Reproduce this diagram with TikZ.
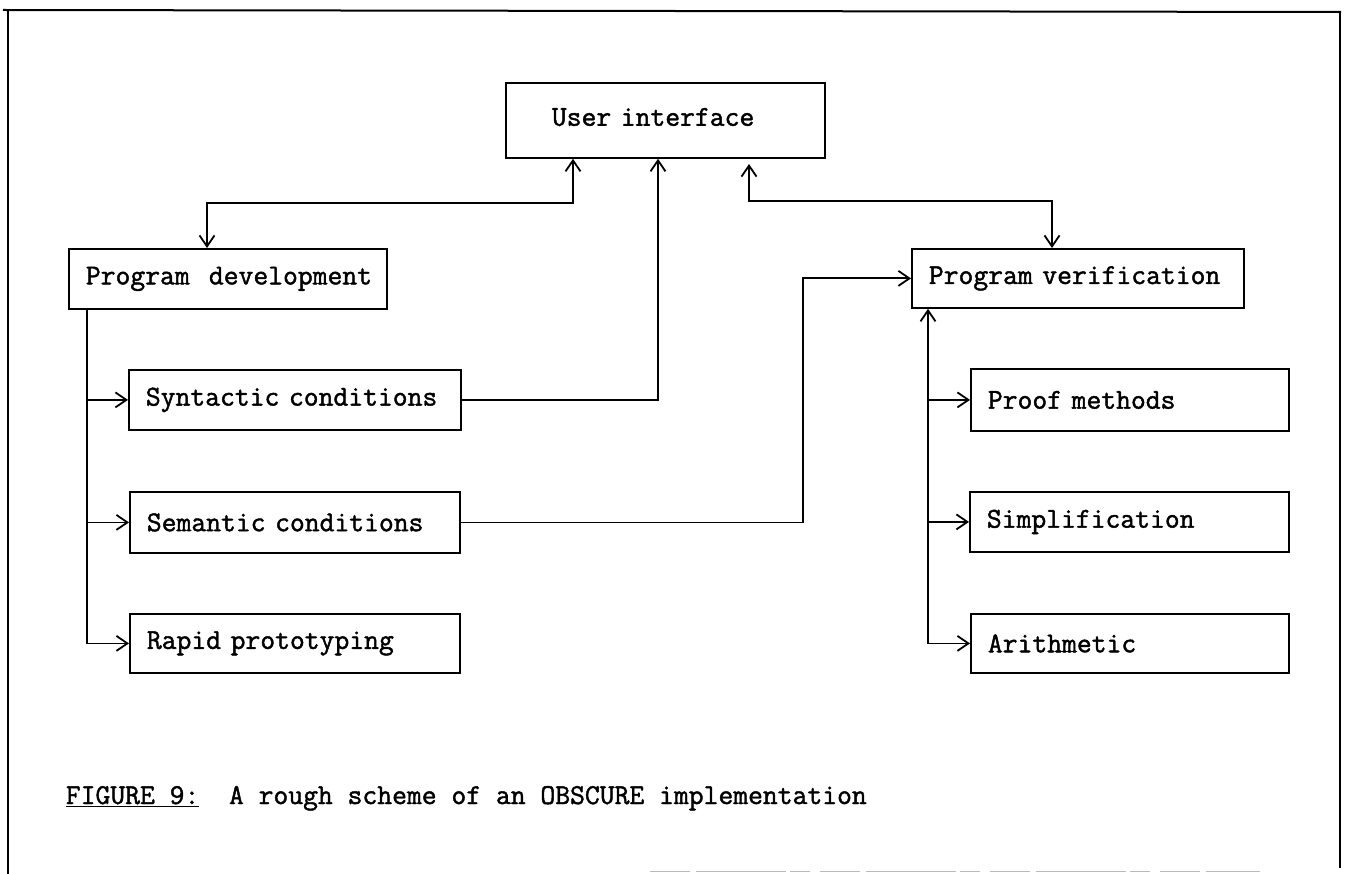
\documentclass[tikz,border=0pt]{standalone}
\usepackage{fontspec}
\newfontfamily\tw{Latin Modern Mono}[FakeBold=1.5]
\usetikzlibrary{arrows.meta}
\begin{document}
\begin{tikzpicture}[x=1pt,y=-1pt,line width=1.8pt,
  txt/.style={font=\tw\fontsize{28.8}{34}\selectfont},
  box/.style={txt,draw,rectangle,anchor=north west,inner ysep=0pt,inner xsep=17pt,align=left},
  tip/.tip={Straight Barb[length=11pt,width=15pt,line width=1.8pt]},
  arr/.style={-tip},
  dbl/.style={tip-tip}]
\useasboundingbox (0,0) rectangle (1348,874);
% frame
\draw[line width=2pt] (3,10) -- (1341,12);
\draw[line width=2pt] (8,10) -- (8,874);
\draw[line width=2pt] (1340,12) -- (1340,868);
\draw[line width=1pt,gray!55,dash pattern=on 40pt off 6pt on 90pt off 4pt on 20pt off 10pt] (650,871) -- (1260,871);
% boxes
\node[box,inner xsep=46pt,text width=227pt,minimum height=75pt] (UI) at (505,82) {\raisebox{7pt}{User interface}};
\node[box,text width=284pt,minimum height=60pt] (PD) at (68,248) {\mbox{Program\ \ development}};
\node[box,text width=298pt,minimum height=59pt] (PV) at (911,248) {\mbox{Program verification}};
\node[box,text width=298pt,minimum height=60pt] (SC) at (128,369) {Syntactic conditions};
\node[box,text width=296pt,minimum height=61pt] (SM) at (129,491) {Semantic conditions};
\node[box,text width=296pt,minimum height=59pt] (RP) at (129,613) {Rapid prototyping};
\node[box,text width=284pt,minimum height=62pt] (PM) at (970,368) {Proof methods};
\node[box,text width=285pt,minimum height=60pt] (SI) at (969,491) {Simplification};
\node[box,text width=284pt,minimum height=59pt] (AR) at (970,613) {Arithmetic};
% connectors
\coordinate (a1) at (573,203);
\coordinate (a2) at (207,203);
\draw[dbl] (UI.south -| a1) -- (a1) -- (a2) -- (PD.north -| a2);
\coordinate (b0) at (749,164);
\coordinate (b1) at (749,201);
\coordinate (b2) at (1052,201);
\draw[dbl] (b0) -- (b1) -- (b2) -- (PV.north -| b2);
\coordinate (c1) at (658,398);
\draw[arr] (SC.east) -- (SC.east -| c1) -- (UI.south -| c1);
\coordinate (d1) at (803,0);
\draw[arr] (SM.east) -| (d1 |- PV.west) -- (PV.west);
\coordinate (e) at (87,0);
\draw[arr] (PD.south -| e) |- (RP.west);
\draw[arr] (e |- SC.west) -- (SC.west);
\draw[arr] (e |- SM.west) -- (SM.west);
\coordinate (f) at (928,0);
\draw[dbl] (PV.south -| f) |- (AR.west);
\draw[arr] (f |- PM.west) -- (PM.west);
\draw[arr] (f |- SI.west) -- (SI.west);
% caption
\node[txt,anchor=base west,inner sep=0pt] (cap) at (65,804) {\underline{FIGURE 9:}\ \ A rough scheme of an OBSCURE implementation};
\end{tikzpicture}
\end{document}
